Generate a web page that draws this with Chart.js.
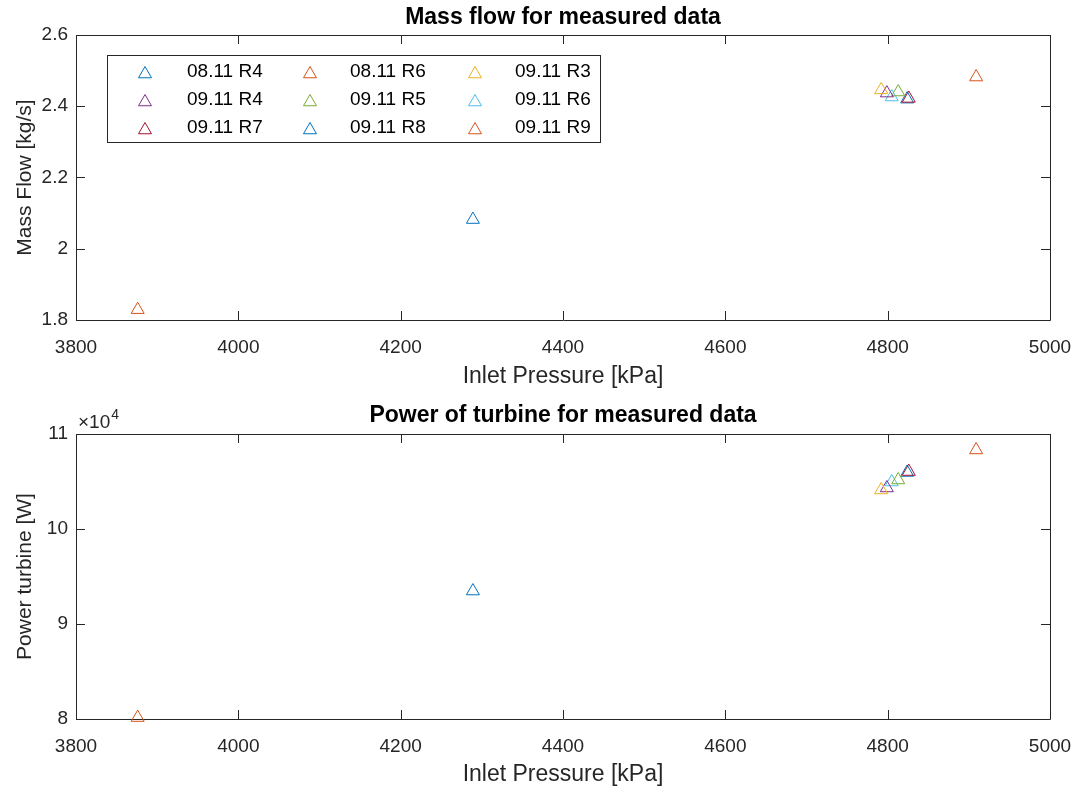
<!DOCTYPE html>
<html>
<head>
<meta charset="utf-8">
<title>Mass flow and turbine power</title>
<script src="https://cdn.jsdelivr.net/npm/chart.js@4/dist/chart.umd.min.js"></script>
<style>
  html, body { margin: 0; padding: 0; background: #ffffff; }
  #wrap { position: relative; width: 1078px; height: 792px; overflow: hidden; }
  canvas { position: absolute; left: 0; }
  #massChart { top: 0; }
  #powerChart { top: 396px; }
</style>
</head>
<body>
<div id="wrap">
  <canvas id="massChart" width="1078" height="396"></canvas>
  <canvas id="powerChart" width="1078" height="396"></canvas>
</div>
<script>
// ---- measured runs ----
const runLabels = ['08.11 R4', '08.11 R6', '09.11 R3', '09.11 R4', '09.11 R5', '09.11 R6', '09.11 R7', '09.11 R8', '09.11 R9'];
const inletPressure = [4289, 3876, 4792, 4799, 4813, 4805, 4826, 4824, 4909];      // kPa
const massFlow      = [2.082, 1.829, 2.446, 2.437, 2.440, 2.426, 2.422, 2.420, 2.482]; // kg/s
const turbinePower  = [93470, 80150, 104110, 104320, 105160, 104950, 106050, 105950, 108320]; // W

// ---- axis ticks ----
const pressureTicks = [3800, 4000, 4200, 4400, 4600, 4800, 5000];
const massFlowTicks = [1.8, 2, 2.2, 2.4, 2.6];
const powerTicks    = [80000, 90000, 100000, 110000];
const powerExponent = 4;

// MATLAB-style line colour order
const runColors = ['#0072BD', '#D95319', '#EDB120', '#7E2F8E', '#77AC30', '#4DBEEE', '#A2142F', '#0072BD', '#D95319'];

const FONT = "'Liberation Sans', Arial, Helvetica, sans-serif";
const AXIS_COLOR = '#262626';
const TEXT_COLOR = '#262626';
const MARKER_R = 7.5;

function buildDatasets(yValues) {
  return runLabels.map((label, i) => ({
    label,
    data: [{ x: inletPressure[i], y: yValues[i] }],
    showLine: false,
    pointStyle: 'triangle',
    pointRadius: MARKER_R,
    pointHoverRadius: MARKER_R,
    pointBorderWidth: 1,
    borderColor: runColors[i],
    backgroundColor: 'rgba(0,0,0,0)',
    clip: false
  }));
}

// closed box round the axes with inward tick marks on all four sides
const axesBox = {
  id: 'axesBox',
  beforeDatasetsDraw(chart) {
    const { ctx, chartArea: a, scales: { x, y } } = chart;
    const L = 9;
    ctx.save();
    ctx.strokeStyle = AXIS_COLOR;
    ctx.lineWidth = 1;
    ctx.beginPath();
    ctx.rect(Math.round(a.left) + 0.5, Math.round(a.top) + 0.5, Math.round(a.right - a.left), Math.round(a.bottom - a.top));
    x.ticks.forEach(t => {
      const px = Math.round(x.getPixelForValue(t.value)) + 0.5;
      ctx.moveTo(px, a.bottom); ctx.lineTo(px, a.bottom - L);
      ctx.moveTo(px, a.top);    ctx.lineTo(px, a.top + L);
    });
    y.ticks.forEach(t => {
      const py = Math.round(y.getPixelForValue(t.value)) + 0.5;
      ctx.moveTo(a.left, py);  ctx.lineTo(a.left + L, py);
      ctx.moveTo(a.right, py); ctx.lineTo(a.right - L, py);
    });
    ctx.stroke();
    ctx.restore();
  }
};

// boxed legend in three columns inside the upper axes
const boxedLegend = {
  id: 'boxedLegend',
  afterDraw(chart) {
    const { ctx } = chart;
    const box = { left: 107, top: 55, right: 600, bottom: 142 };
    const markerX = [145, 310, 475];
    const textX = [187, 350, 515];
    const rowY = [72, 100, 128];
    ctx.save();
    ctx.fillStyle = '#ffffff';
    ctx.fillRect(box.left, box.top, box.right - box.left, box.bottom - box.top);
    ctx.strokeStyle = AXIS_COLOR;
    ctx.lineWidth = 1;
    ctx.strokeRect(box.left + 0.5, box.top + 0.5, box.right - box.left, box.bottom - box.top);
    ctx.font = '19px ' + FONT;
    ctx.textBaseline = 'middle';
    ctx.textAlign = 'left';
    chart.data.datasets.forEach((ds, i) => {
      const col = i % 3, row = Math.floor(i / 3);
      ctx.strokeStyle = ds.borderColor;
      ctx.fillStyle = 'rgba(0,0,0,0)';
      ctx.lineWidth = 1;
      Chart.helpers.drawPoint(ctx, { pointStyle: 'triangle', radius: MARKER_R, rotation: 0, borderWidth: 1 }, markerX[col], rowY[row] + 2);
      ctx.fillStyle = '#000000';
      ctx.fillText(ds.label, textX[col], rowY[row]);
    });
    ctx.restore();
  }
};

// "x10^4" multiplier above the power axis
const exponentLabel = {
  id: 'exponentLabel',
  afterDraw(chart) {
    const { ctx, chartArea: a } = chart;
    ctx.save();
    ctx.fillStyle = TEXT_COLOR;
    ctx.textBaseline = 'alphabetic';
    ctx.textAlign = 'left';
    ctx.font = '19px ' + FONT;
    const base = '\u00d710';
    ctx.fillText(base, a.left + 2, a.top - 6);
    const w = ctx.measureText(base).width;
    ctx.font = '14px ' + FONT;
    ctx.fillText(String(powerExponent), a.left + 2 + w + 1, a.top - 15);
    ctx.restore();
  }
};

function makeOptions(cfg) {
  return {
    responsive: false,
    animation: false,
    events: [],
    layout: { padding: { left: 0, right: 28, top: 0, bottom: 0 } },
    plugins: {
      legend: { display: false },
      tooltip: { enabled: false },
      title: {
        display: true,
        text: cfg.title,
        fullSize: false,
        color: '#000000',
        font: { family: FONT, size: 23, weight: 'bold', lineHeight: 1.2 },
        padding: { top: cfg.titlePadTop, bottom: cfg.titlePadBottom }
      }
    },
    scales: {
      x: {
        type: 'linear',
        min: pressureTicks[0],
        max: pressureTicks[pressureTicks.length - 1],
        afterBuildTicks: s => { s.ticks = pressureTicks.map(v => ({ value: v })); },
        afterFit: s => { s.height = cfg.xHeight; s.paddingLeft = 0; s.paddingRight = 0; },
        grid: { display: false, drawTicks: false },
        border: { display: false },
        ticks: {
          color: TEXT_COLOR, padding: 16, maxRotation: 0, autoSkip: false,
          font: { family: FONT, size: 19, lineHeight: 1.2 },
          callback: v => String(v)
        },
        title: {
          display: true, text: 'Inlet Pressure [kPa]', color: TEXT_COLOR,
          font: { family: FONT, size: 23, lineHeight: 1.2 },
          padding: { top: 0, bottom: cfg.xTitlePadBottom }
        }
      },
      y: {
        type: 'linear',
        min: cfg.yTicks[0],
        max: cfg.yTicks[cfg.yTicks.length - 1],
        afterBuildTicks: s => { s.ticks = cfg.yTicks.map(v => ({ value: v })); },
        afterFit: s => { s.width = 76; s.paddingTop = 0; s.paddingBottom = 0; },
        grid: { display: false, drawTicks: false },
        border: { display: false },
        ticks: {
          color: TEXT_COLOR, padding: 8, autoSkip: false,
          font: { family: FONT, size: 19, lineHeight: 1.2 },
          callback: cfg.yFormat
        },
        title: {
          display: true, text: cfg.yTitle, color: TEXT_COLOR,
          font: { family: FONT, size: 21, lineHeight: 1.2 },
          padding: { top: 13, bottom: 0 }
        }
      }
    }
  };
}

new Chart(document.getElementById('massChart'), {
  type: 'scatter',
  data: { datasets: buildDatasets(massFlow) },
  options: makeOptions({
    title: 'Mass flow for measured data',
    titlePadTop: 4, titlePadBottom: 3.4,
    xHeight: 76, xTitlePadBottom: 6,
    yTicks: massFlowTicks,
    yFormat: v => String(Math.round(v * 10) / 10),
    yTitle: 'Mass Flow [kg/s]'
  }),
  plugins: [axesBox, boxedLegend]
});

new Chart(document.getElementById('powerChart'), {
  type: 'scatter',
  data: { datasets: buildDatasets(turbinePower) },
  options: makeOptions({
    title: 'Power of turbine for measured data',
    titlePadTop: 6.2, titlePadBottom: 4.2,
    xHeight: 73, xTitlePadBottom: 4,
    yTicks: powerTicks,
    yFormat: v => String(v / Math.pow(10, powerExponent)),
    yTitle: 'Power turbine [W]'
  }),
  plugins: [axesBox, exponentLabel]
});
</script>
</body>
</html>
